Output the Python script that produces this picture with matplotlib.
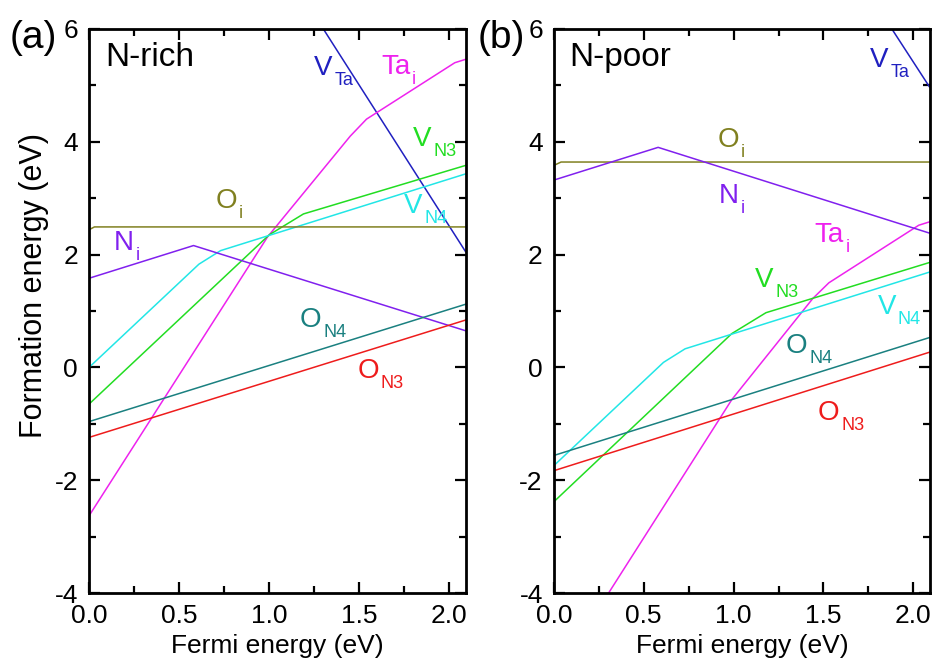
import matplotlib
matplotlib.use("Agg")
import matplotlib.pyplot as plt
from matplotlib.ticker import MultipleLocator

plt.rcParams['font.family'] = ['Liberation Sans', 'DejaVu Sans']
plt.rcParams['axes.unicode_minus'] = False

# defect names: main letters, subscripts and colours
names = ['V_Ta', 'Ta_i', 'V_N3', 'V_N4', 'O_i', 'N_i', 'O_N4', 'O_N3']
main_txt = {'V_Ta': 'V', 'Ta_i': 'Ta', 'V_N3': 'V', 'V_N4': 'V',
            'O_i': 'O', 'N_i': 'N', 'O_N4': 'O', 'O_N3': 'O'}
sub_txt = {'V_Ta': 'Ta', 'Ta_i': 'i', 'V_N3': 'N3', 'V_N4': 'N4',
           'O_i': 'i', 'N_i': 'i', 'O_N4': 'N4', 'O_N3': 'N3'}
colors = {'V_Ta': '#2020c0', 'Ta_i': '#ee22ee', 'V_N3': '#22dd22',
          'V_N4': '#22e6e6', 'O_i': '#808020', 'N_i': '#8020ee',
          'O_N4': '#1a8080', 'O_N3': '#ee1c1c'}

# (a) N-rich : Fermi energy (eV) / formation energy (eV)
rich_x = {'V_Ta': [1.30, 2.09],
          'Ta_i': [0.0, 0.99, 1.45, 1.54, 2.03, 2.09],
          'V_N3': [0.0, 1.0, 1.19, 2.09],
          'V_N4': [0.0, 0.61, 0.73, 2.09],
          'O_i': [0.0, 0.03, 2.09],
          'N_i': [0.0, 0.58, 2.09],
          'O_N4': [0.0, 2.09],
          'O_N3': [0.0, 2.09]}
rich_y = {'V_Ta': [6.0, 2.05],
          'Ta_i': [-2.63, 2.31, 4.10, 4.40, 5.40, 5.46],
          'V_N3': [-0.65, 2.35, 2.72, 3.58],
          'V_N4': [0.0, 1.83, 2.07, 3.43],
          'O_i': [2.44, 2.49, 2.49],
          'N_i': [1.58, 2.16, 0.65],
          'O_N4': [-0.96, 1.12],
          'O_N3': [-1.24, 0.84]}

# (b) N-poor
poor_x = {'V_Ta': [1.88, 2.09],
          'Ta_i': [0.0, 0.99, 1.44, 1.53, 2.03, 2.09],
          'V_N3': [0.0, 0.99, 1.18, 2.09],
          'V_N4': [0.0, 0.61, 0.73, 2.09],
          'O_i': [0.0, 0.04, 2.09],
          'N_i': [0.0, 0.58, 2.09],
          'O_N4': [0.0, 2.09],
          'O_N3': [0.0, 2.09]}
poor_y = {'V_Ta': [6.0, 4.97],
          'Ta_i': [-5.52, -0.57, 1.22, 1.50, 2.52, 2.58],
          'V_N3': [-2.38, 0.60, 0.97, 1.86],
          'V_N4': [-1.74, 0.09, 0.33, 1.69],
          'O_i': [3.58, 3.64, 3.64],
          'N_i': [3.32, 3.90, 2.38],
          'O_N4': [-1.56, 0.53],
          'O_N3': [-1.83, 0.27]}

# label anchors (data coords, left edge / middle of main letter)
rich_lab = {'V_Ta': (1.25, 5.36), 'Ta_i': (1.62, 5.37), 'V_N3': (1.80, 4.10),
            'V_N4': (1.75, 2.91), 'O_i': (0.70, 3.0), 'N_i': (0.14, 2.26),
            'O_N4': (1.17, 0.89), 'O_N3': (1.49, -0.01)}
poor_lab = {'V_Ta': (1.76, 5.5), 'Ta_i': (1.45, 2.40), 'V_N3': (1.12, 1.60),
            'V_N4': (1.80, 1.12), 'O_i': (0.91, 4.08), 'N_i': (0.92, 3.09),
            'O_N4': (1.29, 0.43), 'O_N3': (1.47, -0.76)}

fig = plt.figure(figsize=(9.34, 6.71), dpi=100)
ax1 = fig.add_axes([0.0953, 0.116, 0.404, 0.841])
ax2 = fig.add_axes([0.593, 0.116, 0.403, 0.841])
renderer = fig.canvas.get_renderer()


def species_label(ax, x, y, main, sub, color):
    # main letter, then a smaller dropped subscript right after it
    t = ax.annotate(main, xy=(x, y), xytext=(0, -7.2), textcoords='offset points',
                    fontsize=20, color=color, ha='left', va='baseline')
    w = t.get_window_extent(renderer).width * 72.0 / fig.dpi
    ax.annotate(sub, xy=(x, y), xytext=(w + 1.2, -14.4), textcoords='offset points',
                fontsize=13, color=color, ha='left', va='baseline')


panels = [(ax1, rich_x, rich_y, rich_lab, 'N-rich', '(a)', 0.010),
          (ax2, poor_x, poor_y, poor_lab, 'N-poor', '(b)', 0.511)]

for ax, px, py, lab, cond, letter, lx in panels:
    ax.set_xlim(0, 2.094)
    ax.set_ylim(-4, 6)
    for n in names:
        ax.plot(px[n], py[n], color=colors[n], lw=1.1)
        species_label(ax, lab[n][0], lab[n][1], main_txt[n], sub_txt[n], colors[n])
    ax.xaxis.set_major_locator(MultipleLocator(0.5))
    ax.xaxis.set_minor_locator(MultipleLocator(0.25))
    ax.yaxis.set_major_locator(MultipleLocator(2))
    ax.yaxis.set_minor_locator(MultipleLocator(1))
    ax.tick_params(which='both', direction='in', top=True, right=True,
                   labelsize=19, width=1.6, pad=8)
    ax.tick_params(which='major', length=8)
    ax.tick_params(which='minor', length=5)
    for s in ax.spines.values():
        s.set_linewidth(2)
    ax.set_xlabel('Fermi energy (eV)', fontsize=19, labelpad=4)
    ax.text(0.042, 0.949, cond, transform=ax.transAxes, fontsize=24,
            ha='left', va='center')
    fig.text(lx, 0.944, letter, fontsize=28, ha='left', va='center')

ax1.set_ylabel('Formation energy (eV)', fontsize=22)
ax1.yaxis.set_label_coords(-0.107, 0.546)

fig.savefig('out.png', dpi=100)
